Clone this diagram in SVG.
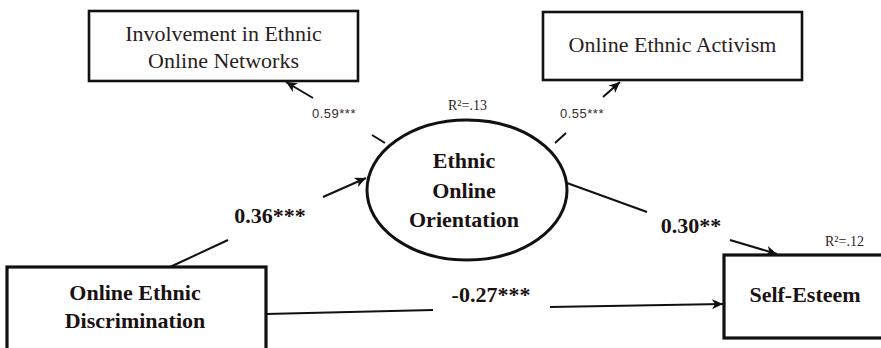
<svg xmlns="http://www.w3.org/2000/svg" width="881" height="348" viewBox="0 0 881 348">
<style>
.box{fill:#fff;stroke:#111;stroke-width:2.6}
.thick{stroke-width:3.2}
.ell{fill:#fff;stroke:#111;stroke-width:3}
.t{font-family:"Liberation Serif","Times New Roman",serif;font-size:22px;fill:#2a1e1e;text-anchor:middle}
.b{font-weight:bold;fill:#1a1212}
.s{font-family:"Liberation Sans",Arial,sans-serif;font-size:13px;fill:#3a2c2c;letter-spacing:0.5px}
.r{font-family:"Liberation Serif","Times New Roman",serif;font-size:14px;fill:#2a1e1e}
.c{fill:none;stroke:#111;stroke-width:2}
</style>
<defs>
<marker id="ah" markerUnits="userSpaceOnUse" markerWidth="12" markerHeight="10" refX="11" refY="5" orient="auto">
<path d="M0,0 L11,5 L0,10 L3,5 Z" fill="#111"/>
</marker>
</defs>
<g id="connectors">
<line class="c" x1="385" y1="143" x2="372" y2="135"/>
<line class="c" x1="313" y1="98" x2="286" y2="82" marker-end="url(#ah)"/>
<line class="c" x1="555" y1="143" x2="566" y2="133"/>
<line class="c" x1="603" y1="97" x2="620" y2="82" marker-end="url(#ah)"/>
<line class="c" x1="170" y1="267" x2="228" y2="240"/>
<line class="c" x1="323" y1="197" x2="366" y2="178" marker-end="url(#ah)"/>
<line class="c" x1="567" y1="183" x2="647" y2="212"/>
<line class="c" x1="730" y1="240" x2="777" y2="254" marker-end="url(#ah)"/>
<line class="c" x1="266" y1="314" x2="433" y2="310"/>
<line class="c" x1="550" y1="307" x2="723" y2="304" marker-end="url(#ah)"/>
<text class="s" x="312" y="118">0.59***</text>
<text class="s" x="560" y="118">0.55***</text>
<text class="t b" x="270" y="223">0.36***</text>
<text class="t b" x="691" y="233">0.30**</text>
<text class="t b" x="491" y="302">-0.27***</text>
</g>
<g id="involvement">
<rect class="box" x="89" y="11" width="269" height="70"/>
<text class="t" x="223.5" y="41">Involvement in Ethnic</text>
<text class="t" x="223.5" y="68">Online Networks</text>
</g>
<g id="activism">
<rect class="box" x="543" y="12" width="259" height="68"/>
<text class="t" x="672.5" y="52">Online Ethnic Activism</text>
</g>
<g id="orientation">
<ellipse class="ell" cx="467" cy="190" rx="100" ry="70"/>
<text class="r" x="448" y="110">R²=.13</text>
<text class="t b" x="464" y="168">Ethnic</text>
<text class="t b" x="464" y="198">Online</text>
<text class="t b" x="464" y="227">Orientation</text>
</g>
<g id="discrimination">
<rect class="box thick" x="7" y="267" width="259" height="100"/>
<text class="t b" x="135" y="300">Online Ethnic</text>
<text class="t b" x="135" y="328">Discrimination</text>
</g>
<g id="selfesteem">
<rect class="box thick" x="724" y="255" width="170" height="83"/>
<text class="r" x="825" y="246">R²=.12</text>
<text class="t b" x="805" y="302">Self-Esteem</text>
</g>
</svg>
